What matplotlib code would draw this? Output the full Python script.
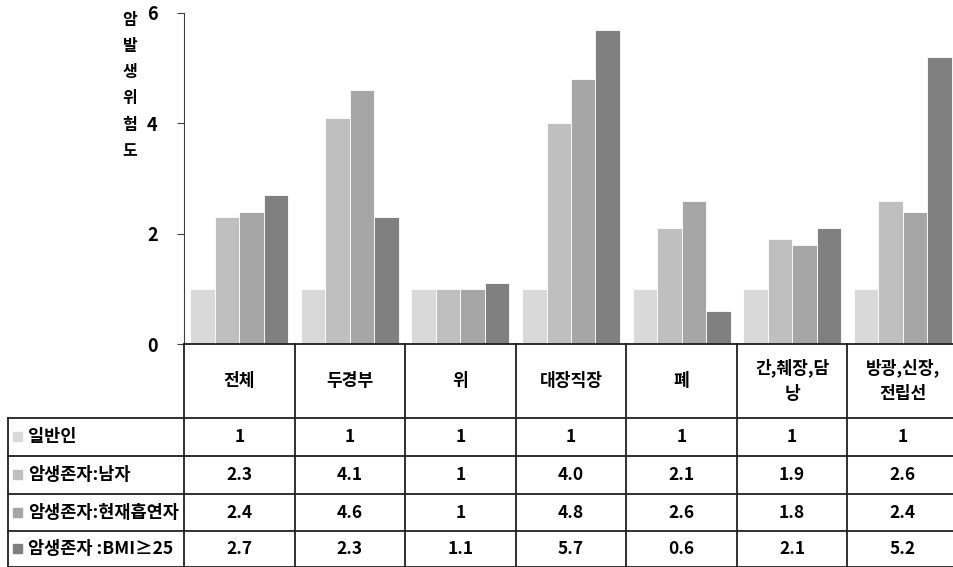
import matplotlib.pyplot as plt
from matplotlib.transforms import blended_transform_factory

plt.rcParams['font.family'] = ['Noto Sans CJK KR', 'DejaVu Sans']
plt.rcParams['font.weight'] = 'bold'

categories = ["전체", "두경부", "위", "대장직장", "폐", "간,췌장,담\n낭", "방광,신장,\n전립선"]
series_names = ["일반인", "암생존자:남자", "암생존자:현재흡연자", "암생존자 :BMI≥25"]
general = ["1", "1", "1", "1", "1", "1", "1"]
survivor_male = ["2.3", "4.1", "1", "4.0", "2.1", "1.9", "2.6"]
survivor_smoker = ["2.4", "4.6", "1", "4.8", "2.6", "1.8", "2.4"]
survivor_bmi = ["2.7", "2.3", "1.1", "5.7", "0.6", "2.1", "5.2"]
colors = ["#d9d9d9", "#bfbfbf", "#a6a6a6", "#808080"]
yticks = [0, 2, 4, 6]

rows = [general, survivor_male, survivor_smoker, survivor_bmi]

W, H = 954, 567
fig = plt.figure(figsize=(W / 100, H / 100), dpi=100)


def fy(px):
    return 1 - px / H


def fx(px):
    return px / W


ax = fig.add_axes([fx(184), fy(344), fx(958 - 184), (344 - 13) / H])
ax.set_xlim(-0.5, len(categories) - 0.5)
ax.set_ylim(0, 6)

w = 0.2215
for j, row in enumerate(rows):
    vals = [float(s) for s in row]
    xs = [i + (j - 1.5) * w for i in range(len(categories))]
    ax.bar(xs, vals, width=w, color=colors[j], edgecolor="white", linewidth=0.6)

for side in ["top", "right"]:
    ax.spines[side].set_visible(False)
ax.spines["left"].set_color("#404040")
ax.spines["bottom"].set_color("#202020")
ax.spines["bottom"].set_linewidth(1.3)
ax.set_xticks([])
ax.set_yticks(yticks)
ax.tick_params(axis="y", length=5, color="#404040", labelsize=13, pad=14)
for lab in ax.get_yticklabels():
    lab.set_fontweight("bold")

fig.text(fx(130), fy(12), "\n".join("암발생위험도"), ha="center", va="top",
         fontsize=11.5, linespacing=1.78)

# data table under the chart
tr = blended_transform_factory(ax.transData, fig.transFigure)
line_kw = dict(color="#202020", lw=1.3, clip_on=False)
n = len(categories)
row_lines = [418, 456, 494, 531, 567]
for k in range(n + 1):
    ax.plot([k - 0.5, k - 0.5], [fy(344), fy(567)], transform=tr, **line_kw)
for yp in row_lines:
    fig.add_artist(plt.Line2D([fx(8), 1.01], [fy(yp), fy(yp)], color="#202020", lw=1.3))
fig.add_artist(plt.Line2D([fx(8), fx(8)], [fy(418), fy(567)], color="#202020", lw=1.3))

for i, cat in enumerate(categories):
    ax.text(i, fy(381), cat, transform=tr, ha="center", va="center",
            fontsize=12.3, linespacing=1.55)

for j, (name, row) in enumerate(zip(series_names, rows)):
    yc = (row_lines[j] + row_lines[j + 1]) / 2
    fig.patches.append(plt.Rectangle((fx(13), fy(yc + 4)), 9 / W, 9 / H,
                                     color=colors[j], transform=fig.transFigure))
    fig.text(fx(28), fy(yc), name, ha="left", va="center", fontsize=12.6)
    for i, s in enumerate(row):
        ax.text(i, fy(yc), s, transform=tr, ha="center", va="center", fontsize=12.5)

fig.savefig("out.png", dpi=100)
